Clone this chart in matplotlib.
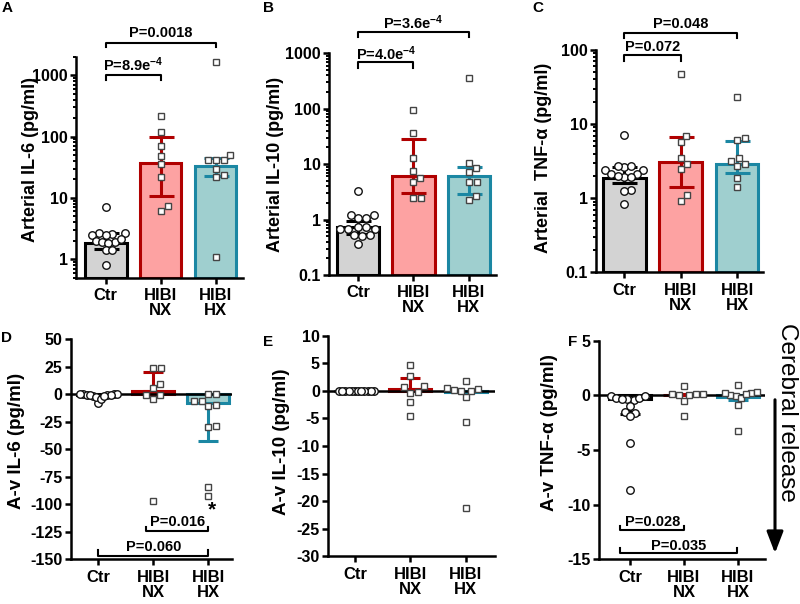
import numpy as np
import matplotlib
matplotlib.use('Agg')
import matplotlib.pyplot as plt
from matplotlib.ticker import LogLocator, NullFormatter, FixedLocator

plt.rcParams['font.family'] = ['Liberation Sans', 'DejaVu Sans']
plt.rcParams['font.weight'] = 'bold'
plt.rcParams['mathtext.fontset'] = 'custom'
plt.rcParams['mathtext.rm'] = 'Liberation Sans:bold'
plt.rcParams['mathtext.bf'] = 'Liberation Sans:bold'
plt.rcParams['mathtext.default'] = 'rm'

# ---------------- data ----------------
categories = ['Ctr', 'HIBI\nNX', 'HIBI\nHX']

# A: arterial IL-6
a_ctr = [7.0, 2.62, 2.68, 2.72, 2.46, 2.49, 1.91, 1.96, 2.12, 1.89, 1.87, 1.42, 1.42, 0.82]
a_nx = [215, 118, 70, 47.5, 35, 22, 6.2, 7.3]
a_hx = [1630, 41, 41, 42, 50, 30, 22, 24, 1.08]
a_bar = [1.87, 37.5, 33]
a_lo = [1.47, 10.7, 22.7]
a_hi = [2.65, 100, 44]

# B: arterial IL-10
b_ctr = [3.3, 1.2, 1.05, 1.05, 1.2, 0.67, 0.67, 0.74, 0.74, 0.67, 0.5, 0.52, 0.52, 0.37]
b_nx = [95, 35.8, 12.8, 7.6, 4.7, 5.6, 2.5, 2.5]
b_hx = [358, 7.3, 8.7, 10.4, 4.7, 4.7, 2.3, 2.7]
b_bar = [0.72, 6.0, 6.2]
b_lo = [0.55, 3.0, 2.9]
b_hi = [0.95, 28.7, 9.0]

# C: arterial TNF-a
c_ctr = [7.2, 2.6, 2.7, 2.7, 2.4, 2.4, 1.95, 2.1, 2.0, 2.1, 1.95, 1.3, 1.25, 0.83]
c_nx = [47.6, 6.9, 5.75, 3.5, 2.46, 2.9, 1.1, 0.92]
c_hx = [23.5, 6.1, 6.4, 2.85, 3.2, 3.5, 2.7, 1.9, 1.42]
c_bar = [1.9, 3.1, 2.9]
c_lo = [1.6, 1.4, 2.17]
c_hi = [2.6, 6.6, 6.0]

# D: A-v IL-6
d_ctr = [-0.3, -2.0, -0.5, -1.0, -8.5, -2.4, -4.8, -1.0, -0.3, -0.3, -0.3, -0.5, -1.5]
d_nx = [-0.6, 23.9, 23.9, 9.1, -4.8, 5.4, -0.9, -96.9]
d_hx = [-6.7, -0.3, 0.3, -11.2, -10.0, -6.0, -29.7, -29.0, -84.7, -92.3]
d_bar = [-1.0, 2.4, -8.4]
d_err = [-2.6, 20.0, -43.0]

# E: A-v IL-10
e_ctr = [0.05, 0.0, -0.05, 0.0, 0.02, -0.02, 0.0, 0.03, -0.03, 0.0, 0.01, -0.01]
e_nx = [0.73, -0.3, 4.65, 2.7, -2.1, -4.5, -0.2, 0.9]
e_hx = [0.0, 0.5, -1.1, 1.75, 0.2, 0.06, 0.36, -5.6, -21.2]
e_bar = [0.0, 0.27, -0.25]
e_err = [0.0, 2.4, -0.25]

# F: A-v TNF-a
f_ctr = [-0.05, -0.45, -0.27, -0.25, -0.35, -0.3, -0.1, -1.0, -1.55, -1.6, -1.85, -4.4, -8.7]
f_nx = [0.03, 0.12, 0.88, 0.15, -0.49, -1.86, 0.09, 0.0]
f_hx = [-0.06, 0.0, 0.98, 0.2, -0.9, -0.27, -3.3, 0.1, 0.2, 0.35]
f_bar = [-0.3, 0.06, -0.12]
f_err = [-1.75, 0.13, -0.4]

# ---------------- style ----------------
W, H = 800, 604
fills = ['#d3d3d3', '#fda2a2', '#9fcfcf']
edges = ['#000000', '#b00000', '#1b87a3']
markers = ['o', 's', 's']
msizes = [5.4, 4.9, 4.9]
mec = ['#111111', '#444444', '#444444']
LW = 2.2
TICKFS = 11.5
CATFS = 12

fig = plt.figure(figsize=(W / 100, H / 100), dpi=100)


def px_axes(l, r, t, b):
    return fig.add_axes([l / W, 1 - b / H, (r - l) / W, (b - t) / H])


def style_axes(ax):
    for s in ['top', 'right']:
        ax.spines[s].set_visible(False)
    for s in ['left', 'bottom']:
        ax.spines[s].set_linewidth(1.8)
    ax.tick_params(axis='both', which='major', width=1.8, length=4.5,
                   labelsize=TICKFS, pad=1.5)
    ax.tick_params(axis='y', which='minor', width=1.4, length=2.5)
    ax.tick_params(axis='x', which='major', pad=3)
    ax.set_xticks([0, 1, 2])
    ax.set_xticklabels(categories, fontsize=CATFS, fontweight='bold', linespacing=1.0)
    for lab in ax.get_yticklabels():
        lab.set_fontweight('bold')


def swarm(ax, xc, vals, dpx, maxw_px):
    vals = np.asarray(vals, float)
    disp = ax.transData.transform(np.column_stack([np.full(len(vals), xc), vals]))
    x0 = disp[0, 0]
    ys = disp[:, 1]
    order = np.argsort(ys)
    offs = np.zeros(len(vals))
    placed = []
    cand = [0.0]
    for k in range(1, 200):
        cand += [k * 0.5, -k * 0.5]
    for i in order:
        for c in cand:
            ok = True
            for (px, py) in placed:
                if (c - px) ** 2 + (ys[i] - py) ** 2 < dpx ** 2:
                    ok = False
                    break
            if ok:
                offs[i] = c
                placed.append((c, ys[i]))
                break
    m = np.max(np.abs(offs))
    if m > maxw_px:
        offs *= maxw_px / m
    inv = ax.transData.inverted()
    xs = inv.transform(np.column_stack([x0 + offs, ys]))[:, 0]
    return xs


def draw_points(ax, groups):
    for i, g in enumerate(groups):
        xs = swarm(ax, i, g, 8.0, 19)
        ax.plot(xs, g, linestyle='none', marker=markers[i], ms=msizes[i],
                mfc='white', mec=mec[i], mew=1.0, zorder=6, clip_on=False)


def top_panel(ax, groups, bar, lo, hi, ylim, ticks, ticklabels, xlim):
    ax.set_yscale('log')
    ax.set_ylim(*ylim)
    ax.set_xlim(*xlim)
    for i in range(3):
        ax.bar(i, bar[i] - ylim[0], bottom=ylim[0], width=0.76, color=fills[i],
               edgecolor=edges[i], linewidth=LW, zorder=2)
        ax.errorbar(i, bar[i], yerr=[[bar[i] - lo[i]], [hi[i] - bar[i]]], fmt='none',
                    ecolor=edges[i], elinewidth=LW, capsize=9, capthick=LW, zorder=4)
    ax.yaxis.set_major_locator(FixedLocator(ticks))
    ax.set_yticklabels(ticklabels)
    ax.yaxis.set_minor_locator(LogLocator(base=10, subs=np.arange(2, 10), numticks=30))
    ax.yaxis.set_minor_formatter(NullFormatter())
    style_axes(ax)
    draw_points(ax, groups)


def bottom_panel(ax, groups, bar, err, ylim, ticks, xlim):
    ax.set_ylim(*ylim)
    ax.set_xlim(*xlim)
    for i in range(3):
        ax.bar(i, bar[i], width=0.76, color=fills[i], edgecolor=edges[i],
               linewidth=LW, zorder=2)
        if abs(err[i] - bar[i]) > 1e-9:
            if err[i] > bar[i]:
                yerr = [[0], [err[i] - bar[i]]]
            else:
                yerr = [[bar[i] - err[i]], [0]]
            ax.errorbar(i, bar[i], yerr=yerr, fmt='none', ecolor=edges[i],
                        elinewidth=LW, capsize=7, capthick=LW, zorder=4)
    ax.axhline(0, color='black', lw=1.8, zorder=3)
    ax.set_yticks(ticks)
    ax.set_yticklabels([str(t) for t in ticks])
    style_axes(ax)
    draw_points(ax, groups)


def bracket_top(ax, x1, x2, y, ytick, ytext, text):
    tr = ax.get_xaxis_transform()
    ax.plot([x1, x1, x2, x2], [ytick, y, y, ytick], color='black', lw=1.5,
            transform=tr, clip_on=False)
    ax.text((x1 + x2) / 2, ytext, text, transform=tr, ha='center', va='center',
            fontsize=10.5, fontweight='bold')


def bracket_bottom(ax, x1, x2, y, ytick, ytext, text):
    ax.plot([x1, x1, x2, x2], [ytick, y, y, ytick], color='black', lw=1.5,
            clip_on=False, zorder=5)
    ax.text((x1 + x2) / 2, ytext, text, ha='center', va='center',
            fontsize=10.5, fontweight='bold', zorder=5)


# ---------------- panels ----------------
axA = px_axes(76, 243, 56.7, 277.7)
top_panel(axA, [a_ctr, a_nx, a_hx], a_bar, a_lo, a_hi, (0.5, 2000),
          [1, 10, 100, 1000], ['1', '10', '100', '1000'], (-0.54, 2.5))
bracket_top(axA, 0, 1, 0.917, 0.894, 0.962, r'P=8.9e$^{-4}$')
bracket_top(axA, 0, 2, 1.062, 1.044, 1.107, 'P=0.0018')

axB = px_axes(329.3, 496, 53.3, 275)
top_panel(axB, [b_ctr, b_nx, b_hx], b_bar, b_lo, b_hi, (0.1, 1000),
          [0.1, 1, 10, 100, 1000], ['0.1', '1', '10', '100', '1000'], (-0.52, 2.49))
bracket_top(axB, 0, 1, 0.962, 0.935, 1.0, r'P=4.0e$^{-4}$')
bracket_top(axB, 0, 2, 1.096, 1.074, 1.137, r'P=3.6e$^{-4}$')

axC = px_axes(596, 763, 50, 272.3)
top_panel(axC, [c_ctr, c_nx, c_hx], c_bar, c_lo, c_hi, (0.1, 100),
          [0.1, 1, 10, 100], ['0.1', '1', '10', '100'], (-0.5, 2.46))
bracket_top(axC, 0, 1, 0.977, 0.952, 1.014, 'P=0.072')
bracket_top(axC, 0, 2, 1.076, 1.054, 1.117, 'P=0.048')

axD = px_axes(71, 232, 339, 559.3)
bottom_panel(axD, [d_ctr, d_nx, d_hx], d_bar, d_err, (-150, 50),
             [50, 25, 0, -25, -50, -75, -100, -125, -150], (-0.496, 2.43))
bracket_bottom(axD, 0.87, 2, -124.5, -120.6, -116.4, 'P=0.016')
bracket_bottom(axD, 0, 2, -146.8, -141.8, -139, 'P=0.060')
axD.text(2.06, -105.5, '*', ha='center', va='center', fontsize=15, fontweight='bold')

axE = px_axes(328.3, 495, 335.7, 556.3)
bottom_panel(axE, [e_ctr, e_nx, e_hx], e_bar, e_err, (-30, 10),
             [10, 5, 0, -5, -10, -15, -20, -25, -30], (-0.48, 2.53))

axF = px_axes(599, 765, 340.7, 559.3)
bottom_panel(axF, [f_ctr, f_nx, f_hx], f_bar, f_err, (-15, 5),
             [5, 0, -5, -10, -15], (-0.574, 2.5))
bracket_bottom(axF, -0.18, 1, -12.34, -11.97, -11.6, 'P=0.028')
bracket_bottom(axF, -0.18, 1.98, -14.4, -14.0, -13.74, 'P=0.035')

# ---------------- labels ----------------
def ftext(x, y, s, **kw):
    fig.text(x / W, 1 - y / H, s, **kw)


ylab_top = dict(rotation=90, ha='center', va='center', fontsize=13, fontweight='bold')
ylab_bot = dict(rotation=90, ha='center', va='center', fontsize=13.5, fontweight='bold')
ftext(31, 160, 'Arterial IL-6 (pg/ml)', **ylab_top)
ftext(275, 164, 'Arterial IL-10 (pg/ml)', **ylab_top)
ftext(543, 158, 'Arterial  TNF-α (pg/ml)', **ylab_top)
ftext(17, 441, 'A-v IL-6 (pg/ml)', **ylab_bot)
ftext(281, 442, 'A-v IL-10 (pg/ml)', **ylab_bot)
ftext(550, 433, 'A-v TNF-α (pg/ml)', **ylab_bot)

let_kw = dict(ha='center', va='center', fontsize=11, fontweight='bold')
ftext(7, 8, 'A', **let_kw)
ftext(269, 8, 'B', **let_kw)
ftext(538, 8, 'C', **let_kw)
ftext(6, 338, 'D', **let_kw)
ftext(268, 342, 'E', **let_kw)
ftext(573, 342, 'F', **let_kw)

ftext(787, 412, 'Cerebral release', rotation=270, ha='center', va='center',
      fontsize=17.5, fontweight='normal')
fig.add_artist(matplotlib.patches.FancyArrowPatch(
    (775 / W, 1 - 397 / H), (775 / W, 1 - 556 / H),
    transform=fig.transFigure, arrowstyle='-|>,head_length=0.65,head_width=0.25',
    mutation_scale=20, lw=2.2, color='black'))

fig.savefig('out.png', dpi=100)
